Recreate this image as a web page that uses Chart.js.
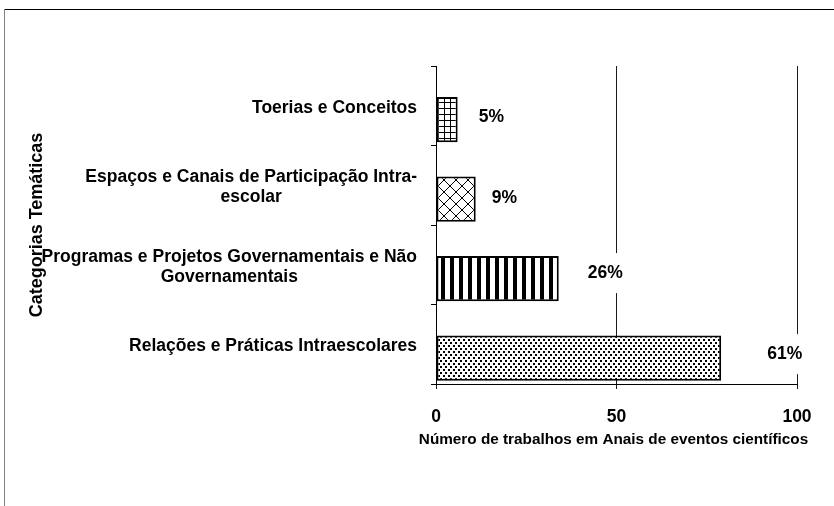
<!DOCTYPE html>
<html><head><meta charset="utf-8">
<script src="https://cdn.jsdelivr.net/npm/chart.js@4.4.0/dist/chart.umd.min.js"></script>
<style>html,body{margin:0;padding:0;background:#fff;}#wrap{position:relative;width:834px;height:506px;}</style>
</head><body><div id="wrap"><canvas id="c" width="834" height="506"></canvas></div>
<script>
const categories = [
  ['Toerias e Conceitos'],
  ['Espaços e Canais de Participação Intra-', 'escolar'],
  ['Programas e Projetos Governamentais e Não', 'Governamentais'],
  ['Relações e Práticas Intraescolares']
];
const values = [6, 11, 34, 79];
const percentLabels = ['5%', '9%', '26%', '61%'];
const xTicks = [0, 50, 100];
const xTitle = 'Número de trabalhos em Anais de eventos científicos';
const yTitle = 'Categorias Temáticas';

const FONT = '"Liberation Sans", Arial, sans-serif';
const BOLD = 'bold 17.5px ' + FONT;
Chart.defaults.font.family = FONT;
Chart.defaults.color = '#000';

const mainCtx = document.getElementById('c').getContext('2d');
function makePattern(w, h, draw) {
  const c = document.createElement('canvas'); c.width = w; c.height = h;
  const g = c.getContext('2d');
  g.fillStyle = '#fff'; g.fillRect(0, 0, w, h);
  g.fillStyle = '#000'; g.strokeStyle = '#000';
  draw(g, w, h);
  return mainCtx.createPattern(c, 'repeat');
}
const gridPat = makePattern(6, 6, g => { g.fillRect(0, 0, 6, 1); g.fillRect(0, 0, 1, 6); });
const crossPat = makePattern(12, 12, g => {
  g.lineWidth = 1; g.beginPath();
  g.moveTo(-1, -1); g.lineTo(13, 13);
  g.moveTo(13, -1); g.lineTo(-1, 13);
  g.stroke();
});
const stripePat = makePattern(9, 4, g => { g.fillRect(0, 0, 4, 4); });
const dotPat = makePattern(5, 6, g => { g.fillRect(0, 0, 2, 2); g.fillRect(3, 3, 2, 2); });
const patterns = [gridPat, crossPat, stripePat, dotPat];

const decorPlugin = {
  id: 'decor',
  beforeDraw(chart) {
    const ctx = chart.ctx;
    ctx.save();
    ctx.fillStyle = '#000'; ctx.fillRect(4, 9, 830, 1);
    ctx.fillStyle = '#808080'; ctx.fillRect(4, 9, 1, 497);
    ctx.restore();
  },
  afterDatasetsDraw(chart, args, opts) {
    const ctx = chart.ctx;
    const meta = chart.getDatasetMeta(1);
    ctx.save();
    ctx.font = BOLD;
    ctx.textBaseline = 'middle'; ctx.textAlign = 'left';
    meta.data.forEach((bar, i) => {
      const [dx, dy] = opts.offsets[i];
      const t = percentLabels[i];
      const w = ctx.measureText(t).width;
      const x = bar.x + dx, y = bar.y + dy;
      ctx.fillStyle = '#fff'; ctx.fillRect(x - 4, y - 20, w + 8, 40);
      ctx.fillStyle = '#000'; ctx.fillText(t, x, y);
    });
    ctx.restore();
  },
  afterDraw(chart) {
    const ctx = chart.ctx;
    const ys = chart.scales.y;
    const ca = chart.chartArea;
    ctx.save();
    ctx.font = BOLD;
    ctx.fillStyle = '#000';
    ctx.textAlign = 'center'; ctx.textBaseline = 'middle';
    categories.forEach((lines, i) => {
      const cy = ys.getPixelForValue(i) + 2;
      const widest = Math.max(...lines.map(l => ctx.measureText(l).width));
      const cx = ys.right - 19 - widest / 2;
      const lh = 20;
      lines.forEach((l, j) => ctx.fillText(l, cx, cy + (j - (lines.length - 1) / 2) * lh));
    });
    // x axis title
    ctx.font = 'bold 15.3px ' + FONT;
    ctx.fillText(xTitle, (ca.left + ca.right) / 2 - 3, chart.scales.x.top + 56);
    // y axis title
    ctx.font = 'bold 18px ' + FONT;
    ctx.translate(42, (ca.top + ca.bottom) / 2);
    ctx.rotate(-Math.PI / 2);
    ctx.textBaseline = 'alphabetic';
    ctx.fillText(yTitle, 0, 0);
    ctx.restore();
  }
};

new Chart(document.getElementById('c'), {
  type: 'bar',
  data: {
    labels: categories,
    datasets: [
      { data: categories.map(() => null) },
      {
        data: values,
        backgroundColor: patterns,
        borderColor: '#000',
        borderWidth: 2,
        borderSkipped: false
      }
    ]
  },
  options: {
    indexAxis: 'y',
    responsive: false,
    animation: false,
    devicePixelRatio: 1,
    categoryPercentage: 0.7,
    barPercentage: 1.62,
    layout: { padding: { top: 66, right: 37, bottom: 0, left: 0 } },
    plugins: {
      legend: { display: false },
      tooltip: { enabled: false },
      decor: { offsets: [[21, -2.5], [16, -1], [29, -5.6], [46, -4]] }
    },
    scales: {
      x: {
        type: 'linear', min: 0, max: 100,
        afterBuildTicks: s => { s.ticks = xTicks.map(v => ({ value: v })); },
        ticks: { color: '#000', font: { size: 17.5, weight: 'bold' }, padding: 18, maxRotation: 0 },
        grid: { color: '#1a1a1a', lineWidth: 1, tickLength: 5, drawTicks: true },
        border: { display: true, color: '#000', width: 1 },
        afterFit: s => { s.height = 122; }
      },
      y: {
        type: 'category', offset: true,
        grid: { offset: true, drawOnChartArea: false, drawTicks: true, tickLength: 5, color: '#000' },
        border: { display: true, color: '#000', width: 1 },
        ticks: { display: false },
        afterFit: s => { s.width = 436; }
      }
    }
  },
  plugins: [decorPlugin]
});
</script>
</body></html>
